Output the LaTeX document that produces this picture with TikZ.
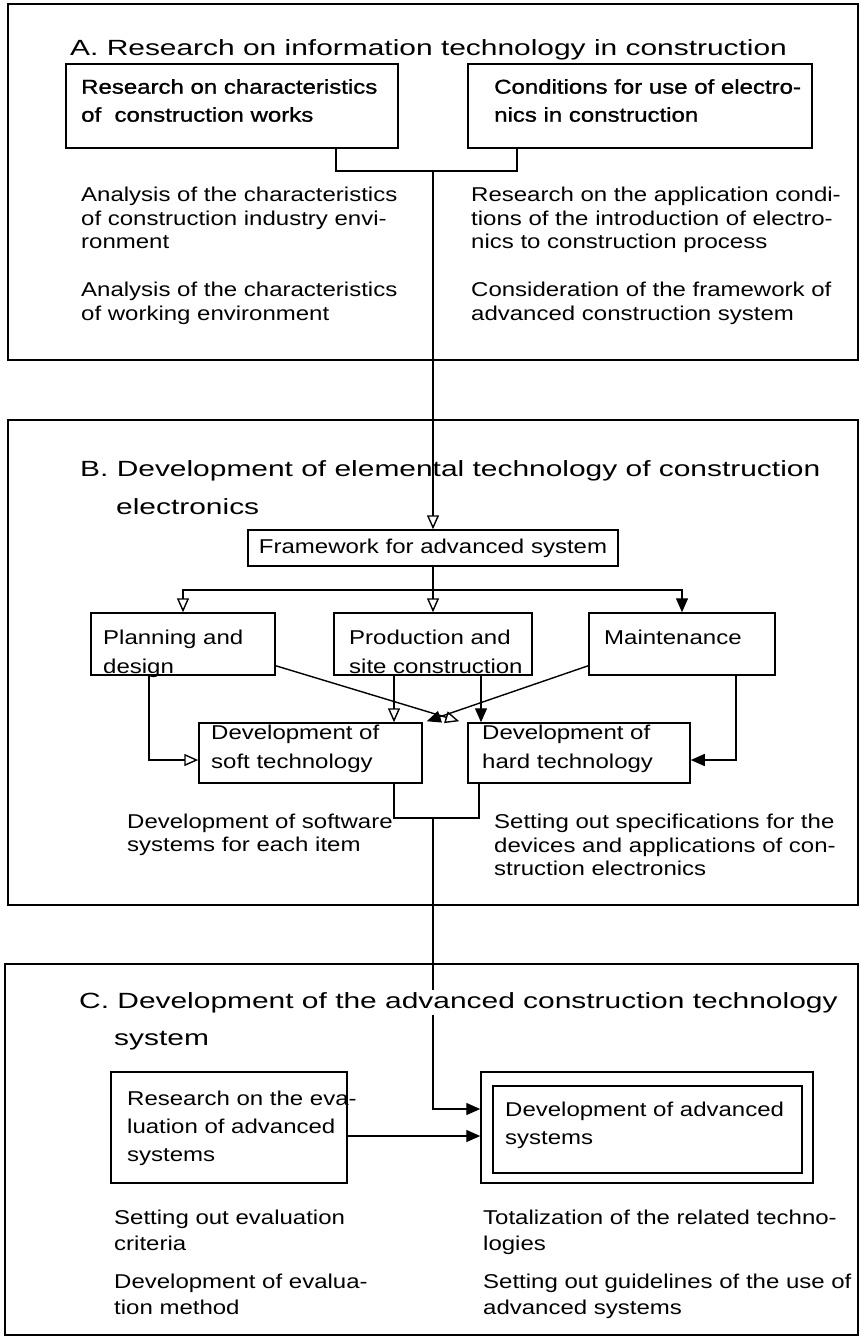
\documentclass[tikz,border=0pt]{standalone}
\usepackage{fontspec}
\setmainfont{Liberation Sans}[FakeStretch=1.2]
\newfontfamily\ttlfont{Liberation Sans}[FakeStretch=1.36]
\newfontfamily\heavyfont{Liberation Sans}[FakeStretch=1.2,FakeBold=1.2]
\usetikzlibrary{arrows.meta,calc}
\begin{document}
\begin{tikzpicture}[x=1pt,y=-1pt,
  frame/.style={draw,line width=1.6pt,inner sep=0},
  box/.style={draw,line width=1.5pt,inner sep=0},
  boldbox/.style={draw,line width=2pt,inner sep=0},
  conn/.style={line width=1.4pt},
  opa/.style={conn,-{Triangle[open,length=14pt,width=12pt,line width=1.4pt]}},
  fla/.style={conn,-{Triangle[length=14pt,width=12pt]}},
  txt/.style={font=\fontsize{20}{23.5}\selectfont,align=left,inner sep=0,anchor=north west},
  btxt/.style={font=\fontsize{20}{28}\selectfont,align=left,inner sep=0,anchor=north west},
  htxt/.style={font=\heavyfont\fontsize{20}{28}\selectfont,align=left,inner sep=0,anchor=north west},
  ctxt/.style={font=\fontsize{20}{26}\selectfont,align=left,inner sep=0,anchor=north west},
  ttl/.style={font=\ttlfont\fontsize{22}{26}\selectfont,inner sep=0,anchor=base west}]
\useasboundingbox (0,0) rectangle (861,1338);

% ---------- section frames ----------
\node[frame,minimum width=850pt,minimum height=356pt] (fA) at (433,182) {};
\node[frame,minimum width=850pt,minimum height=485pt] (fB) at (433,662.5) {};
\node[frame,minimum width=853pt,minimum height=371pt] (fC) at (431.5,1149.5) {};

% ---------- section A ----------
\node[ttl] (tA) at (70,56) {A. Research on information technology in construction};
\node[boldbox,minimum width=332pt,minimum height=84pt] (A1) at (232,106) {};
\node[boldbox,minimum width=344pt,minimum height=84pt] (A2) at (640,106) {};
\node[htxt] (tA1) at (81,79) {Research on characteristics\\of\ \ construction works};
\node[htxt] (tA2) at (494,79) {Conditions for use of electro-\\nics in construction};
\node[txt] (pA1) at (81,187) {Analysis of the characteristics\\of construction industry envi-\\ronment};
\node[txt] (pA2) at (81,282) {Analysis of the characteristics\\of working environment};
\node[txt] (pA3) at (471,187) {Research on the application condi-\\tions of the introduction of electro-\\nics to construction process};
\node[txt] (pA4) at (471,282) {Consideration of the framework of\\advanced construction system};
\coordinate (jA) at (433,171);
\draw[conn] ($(A1.south)+(104,0)$) |- (jA) -| ($(A2.south)+(-123,0)$);

% ---------- section B ----------
\node[box,minimum width=370pt,minimum height=36pt,font=\fontsize{20}{24}\selectfont] (FW) at (433,548) {Framework for advanced system};
\draw[opa] (jA) -- (FW.north);
\node[ttl] (tB1) at (80,476) {B. Development of elemental technology of construction};
\node[ttl] (tB2) at (116,514) {electronics};

\node[box,minimum width=184pt,minimum height=62pt] (PL) at (183,644) {};
\node[box,minimum width=198pt,minimum height=62pt] (PR) at (433,644) {};
\node[box,minimum width=186pt,minimum height=62pt] (MT) at (682,644) {};
\node[btxt,font=\fontsize{20}{29}\selectfont] (tPL) at (103,630) {Planning and\\design};
\node[btxt,font=\fontsize{20}{29}\selectfont] (tPR) at (349,630) {Production and\\site construction};
\node[btxt] (tMT) at (604,630) {Maintenance};

\coordinate (jB) at (433,590);
\draw[conn] (FW.south) -- (jB);
\draw[opa] (jB) -| (PL.north);
\draw[opa] (jB) -- (PR.north);
\draw[fla] (jB) -| (MT.north);

\node[box,minimum width=223pt,minimum height=60pt] (SO) at (310.5,753) {};
\node[box,minimum width=222pt,minimum height=60pt] (HA) at (579,753) {};
\node[btxt,font=\fontsize{20}{29}\selectfont] (tSO) at (211,725) {Development of\\soft technology};
\node[btxt,font=\fontsize{20}{29}\selectfont] (tHA) at (482,725) {Development of\\hard technology};

\draw[opa] ($(PL.south)+(-34,0)$) |- ($(SO.west)+(0,7)$);
\draw[fla] ($(MT.south)+(54,0)$) |- ($(HA.east)+(0,7)$);
\draw[opa] ($(PR.south)+(-39,0)$) -- ($(PR.south |- SO.north)+(-39,0)$);
\draw[fla] ($(PR.south)+(48,0)$) -- ($(PR.south |- HA.north)+(48,0)$);
\draw[opa] ($(PL.south east)+(0,-10)$) -- ($(HA.north west)+(-8,-1)$);
\draw[fla] ($(MT.south west)+(0,-10)$) -- ($(SO.north east)+(4,-1)$);

\coordinate (jC) at (433,818);
\draw[conn] ($(SO.south)+(83.5,0)$) |- (jC) -| ($(HA.south)+(-100,0)$);
\node[txt,font=\fontsize{20}{23}\selectfont] (pB1) at (127,814) {Development of software\\systems for each item};
\node[txt] (pB2) at (494,814) {Setting out specifications for the\\devices and applications of con-\\struction electronics};

% ---------- section C ----------
\node[box,minimum width=236pt,minimum height=111pt] (EV) at (229,1127.5) {};
\node[box,minimum width=332pt,minimum height=111pt] (DA) at (647,1127.5) {};
\node[box,minimum width=309pt,minimum height=87pt] (DAi) at (647.5,1129.5) {};
\draw[fla] (jC) |- ($(DA.west)+(0,-18.5)$);
\draw[fla] ($(EV.east)+(0,8.5)$) -- ($(DA.west)+(0,8.5)$);

\node[ttl,fill=white,inner ysep=2pt] (tC1) at (79,1008) {C. Development of the advanced construction technology};
\node[ttl] (tC2) at (114,1045) {system};

\node[btxt] (tEV) at (127,1091) {Research on the eva-\\luation of advanced\\systems};
\node[btxt] (tDA) at (505,1102) {Development of advanced\\systems};
\node[ctxt] (pC1) at (114,1210) {Setting out evaluation\\criteria};
\node[ctxt] (pC2) at (114,1274) {Development of evalua-\\tion method};
\node[ctxt] (pC3) at (483,1210) {Totalization of the related techno-\\logies};
\node[ctxt] (pC4) at (483,1274) {Setting out guidelines of the use of\\advanced systems};
\end{tikzpicture}
\end{document}
